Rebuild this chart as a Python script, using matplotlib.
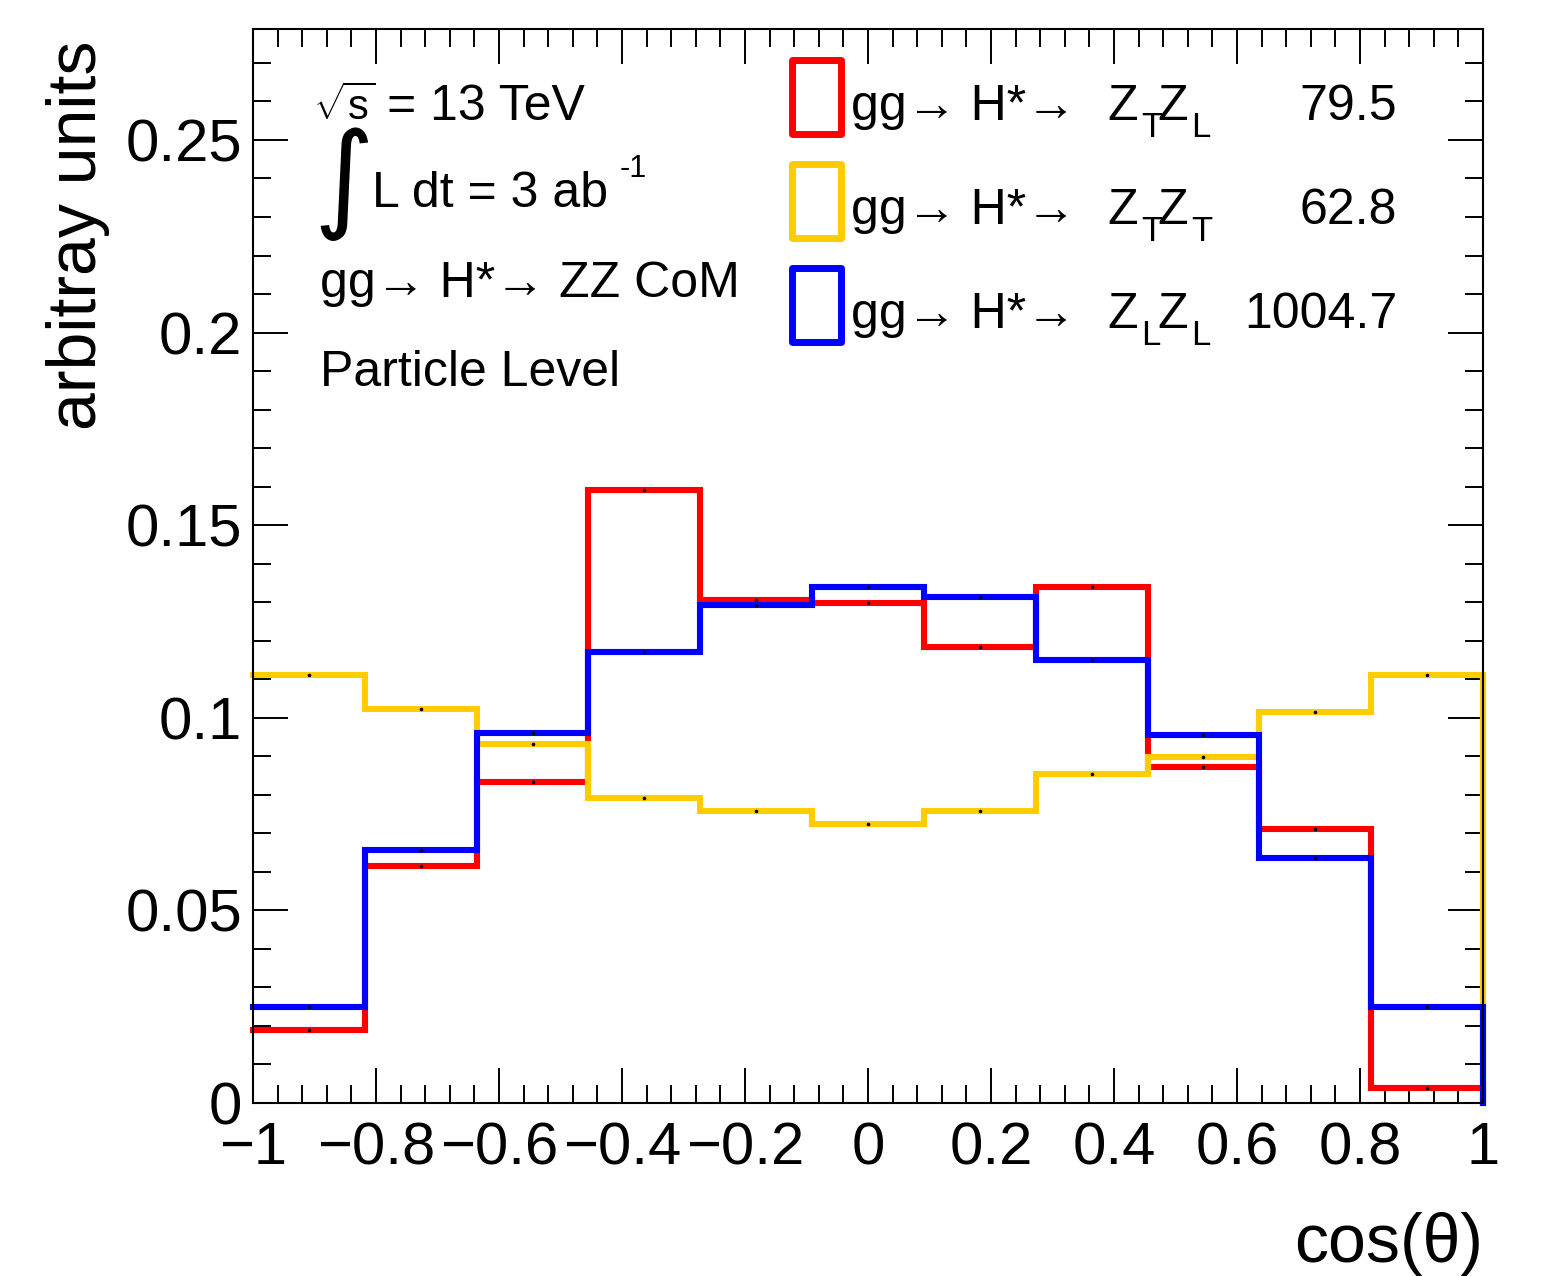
#!/usr/bin/env python
# cos(theta) distributions of the Z bosons in gg -> H* -> ZZ, ROOT style

import matplotlib
matplotlib.use('Agg')
import matplotlib.pyplot as plt
from matplotlib.patches import Rectangle
from matplotlib.ticker import MultipleLocator, FuncFormatter
import numpy as np

plt.rcParams['font.family'] = ['Liberation Sans', 'DejaVu Sans']
plt.rcParams['mathtext.fontset'] = 'custom'
plt.rcParams['mathtext.rm'] = 'Liberation Sans'
plt.rcParams['mathtext.it'] = 'Liberation Sans:italic'
plt.rcParams['mathtext.bf'] = 'Liberation Sans:bold'
plt.rcParams['axes.unicode_minus'] = True

# 11 bins between -1 and 1
edges = np.linspace(-1.0, 1.0, 12)

red_TL = [0.0189, 0.0616, 0.0832, 0.1590, 0.1306, 0.1299, 0.1184, 0.1340, 0.0873, 0.0710, 0.0040]
yellow_TT = [0.1110, 0.1023, 0.0933, 0.0791, 0.0758, 0.0724, 0.0758, 0.0853, 0.0899, 0.1015, 0.1110]
blue_LL = [0.0250, 0.0656, 0.0961, 0.1170, 0.1292, 0.1340, 0.1313, 0.1150, 0.0954, 0.0636, 0.0250]

process = 'gg→ H*→'
pol_subs = [('T', 'L'), ('T', 'T'), ('L', 'L')]
yields = ['79.5', '62.8', '1004.7']
colors = ['#ff0000', '#ffcc00', '#0000ff']

W, H = 1566, 1276


def fx(x):
    return x / W


def fy(y):
    return 1 - y / H


def main():
    fig = plt.figure(figsize=(W / 100, H / 100), dpi=100)
    ax = fig.add_axes([fx(253), fy(1103), 1230 / W, 1074 / H])

    centers = 0.5 * (edges[1:] + edges[:-1])
    for vals, c in zip([red_TL, yellow_TT, blue_LL], colors):
        # ROOT outline: no line up the left edge, closing line down the right edge
        xs = np.r_[edges, edges[-1]]
        ys = np.r_[vals, vals[-1], 0.0]
        ax.plot(xs, ys, drawstyle='steps-post', color=c, lw=4.4,
                solid_joinstyle='miter', clip_on=False)
        ax.plot(centers, vals, ls='none', marker='o', ms=1.6, color='k')

    ax.set_xlim(-1, 1)
    ax.set_ylim(0, 0.2788)

    ax.xaxis.set_major_locator(MultipleLocator(0.2))
    ax.xaxis.set_minor_locator(MultipleLocator(0.04))
    ax.yaxis.set_major_locator(MultipleLocator(0.05))
    ax.yaxis.set_minor_locator(MultipleLocator(0.01))
    fmt = FuncFormatter(lambda v, p: ('%g' % round(v, 3)).replace('-', '\u2212'))
    ax.xaxis.set_major_formatter(fmt)
    ax.yaxis.set_major_formatter(fmt)

    ax.tick_params(which='both', direction='in', top=True, right=True,
                   width=1.4, labelsize=43)
    ax.tick_params(which='major', length=25)
    ax.tick_params(which='minor', length=13)
    ax.tick_params(axis='x', pad=13)
    ax.tick_params(axis='y', pad=8)
    for s in ax.spines.values():
        s.set_linewidth(1.5)
        s.set_zorder(5)

    ax.set_xlabel('cos(\u03b8)', fontsize=49, loc='right')
    ax.xaxis.label.set_va('baseline')
    ax.xaxis.set_label_coords(1.0, (1103 - 1262) / 1074)
    ax.set_ylabel('arbitray units', fontsize=49, loc='top')
    ax.yaxis.set_label_coords((110 - 253) / 1230, (1103 - 40) / 1074)

    # info text, top left
    fs = 36
    fig.text(fx(313), fy(120), r'$\sqrt{\mathrm{s}}$', fontsize=30, va='baseline')
    fig.text(fx(387), fy(120), '= 13 TeV', fontsize=fs, va='baseline')
    fig.text(fx(313), fy(216), '\u222b', fontsize=84, va='baseline',
             family='DejaVu Sans')
    fig.text(fx(372), fy(207), 'L dt = 3 ab', fontsize=fs, va='baseline')
    fig.text(fx(620), fy(177), '-1', fontsize=22, va='baseline')
    fig.text(fx(320), fy(297), 'gg→ H*→ ZZ CoM', fontsize=fs, va='baseline')
    fig.text(fx(320), fy(386), 'Particle Level', fontsize=fs, va='baseline')

    # legend, ROOT TLegend style
    for i, (subs, y, c) in enumerate(zip(pol_subs, yields, colors)):
        base = 120 + 104 * i
        fig.patches.append(Rectangle((fx(791.5), fy(base + 13.5)), 49 / W, 73 / H,
                                     transform=fig.transFigure, fill=False,
                                     edgecolor=c, lw=5, joinstyle='round'))
        fig.text(fx(851), fy(base), process, fontsize=fs, va='baseline')
        # Z_a Z_b with ROOT-like low subscripts
        fig.text(fx(1107), fy(base), 'Z', fontsize=fs, va='baseline')
        fig.text(fx(1141), fy(base + 17), subs[0], fontsize=25, va='baseline')
        fig.text(fx(1157), fy(base), 'Z', fontsize=fs, va='baseline')
        fig.text(fx(1191), fy(base + 17), subs[1], fontsize=25, va='baseline')
        fig.text(fx(1397), fy(base), y, fontsize=fs, va='baseline', ha='right')

    plt.savefig('out.png', dpi=100)


if __name__ == '__main__':
    main()
